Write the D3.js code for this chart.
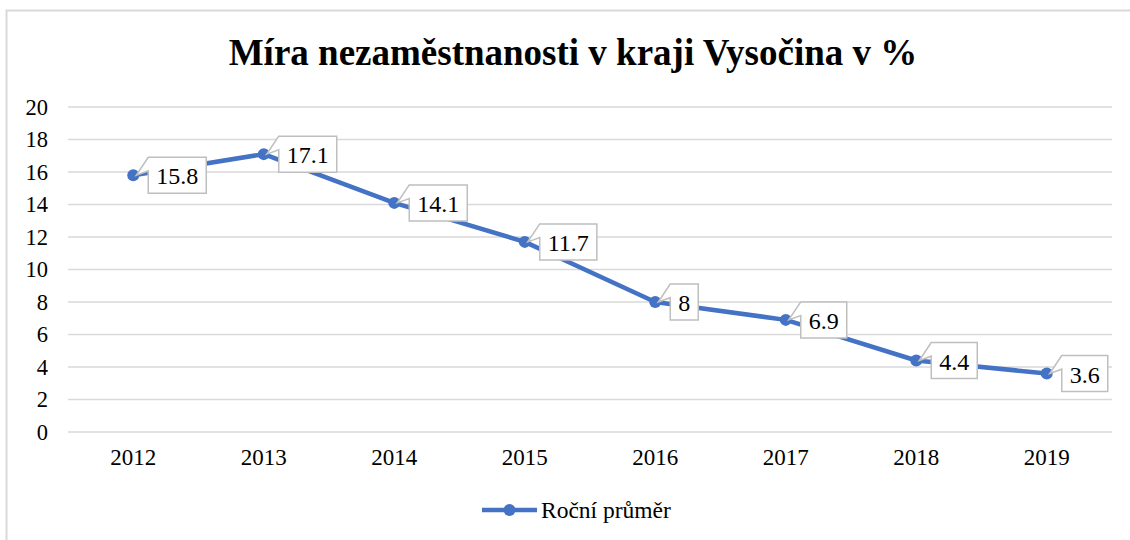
<!DOCTYPE html>
<html>
<head>
  <meta charset="utf-8">
  <script src="https://d3js.org/d3.v7.min.js"></script>
  <style>
    body { margin: 0; background: #fff; }
    svg text { font-family: "Liberation Serif", "Times New Roman", serif !important; fill: #000; }
  </style>
</head>
<body>
  <svg width="1130" height="540"></svg>
  <script>
    const years = ['2012', '2013', '2014', '2015', '2016', '2017', '2018', '2019'];
    const rates = [15.8, 17.1, 14.1, 11.7, 8, 6.9, 4.4, 3.6];
    const yTicks = [0, 2, 4, 6, 8, 10, 12, 14, 16, 18, 20];
    const seriesName = 'Roční průměr';
    const title = 'Míra nezaměstnanosti v kraji Vysočina v %';

    const blue = '#4472c4';
    const serif = '"Liberation Serif", "Times New Roman", serif';
    const svg = d3.select('svg');

    // chart area border (runs off the right and bottom edge)
    svg.append('rect')
      .attr('x', 6.5).attr('y', 10.5)
      .attr('width', 1140).attr('height', 540)
      .attr('fill', 'none').attr('stroke', '#d9d9d9').attr('stroke-width', 2);

    svg.append('text')
      .attr('x', 573).attr('y', 65)
      .attr('text-anchor', 'middle')
      .style('font-family', serif)
      .style('font-weight', 'bold')
      .style('font-size', '37px')
      .text(title);

    const x = d3.scaleBand().domain(years).range([68, 1112]);
    const y = d3.scaleLinear().domain([0, 20]).range([432, 107]);
    const cx = d => x(d) + x.bandwidth() / 2;

    // gridlines
    svg.append('g').selectAll('line')
      .data(yTicks)
      .join('line')
      .attr('x1', 68).attr('x2', 1112)
      .attr('y1', d => y(d)).attr('y2', d => y(d))
      .attr('stroke', '#d9d9d9').attr('stroke-width', 1.5);

    const yAxis = svg.append('g')
      .attr('transform', 'translate(48,0)')
      .call(d3.axisLeft(y).tickValues(yTicks).tickSize(0).tickPadding(0));
    yAxis.select('.domain').remove();
    yAxis.attr('font-family', null).attr('font-size', null);
    yAxis.selectAll('text')
      .style('font-family', serif).style('font-size', '22.5px');

    const xAxis = svg.append('g')
      .attr('transform', 'translate(0,432)')
      .call(d3.axisBottom(x).tickSize(0).tickPadding(17));
    xAxis.select('.domain').remove();
    xAxis.attr('font-family', null).attr('font-size', null);
    xAxis.selectAll('text')
      .style('font-family', serif).style('font-size', '23px');

    const pts = years.map((yr, i) => ({ yr, v: rates[i] }));

    svg.append('path')
      .datum(pts)
      .attr('fill', 'none')
      .attr('stroke', blue)
      .attr('stroke-width', 4.5)
      .attr('stroke-linejoin', 'round')
      .attr('d', d3.line().x(d => cx(d.yr)).y(d => y(d.v)));

    svg.append('g').selectAll('circle')
      .data(pts)
      .join('circle')
      .attr('cx', d => cx(d.yr)).attr('cy', d => y(d.v))
      .attr('r', 6).attr('fill', blue);

    // callout data labels
    const labels = svg.append('g').selectAll('g')
      .data(pts)
      .join('g');
    labels.each(function (d) {
      const g = d3.select(this);
      const px = cx(d.yr), py = y(d.v);
      const t = g.append('text')
        .style('font-family', serif)
        .style('font-size', '24px')
        .attr('text-anchor', 'middle')
        .attr('dominant-baseline', 'central')
        .text(String(d.v));
      const w = t.node().getComputedTextLength() + 16;
      const h = 36;
      const bx = px + 15, by = py - 18;
      t.attr('x', bx + w / 2).attr('y', py + 1);
      g.insert('path', 'text')
        .attr('d', `M${bx},${by} L${px + 3},${py} L${bx},${by + h * 0.38} L${bx},${by + h} L${bx + w},${by + h} L${bx + w},${by} Z`)
        .attr('fill', '#fff')
        .attr('stroke', '#bfbfbf')
        .attr('stroke-width', 1.5);
    });

    // legend
    const lg = svg.append('g');
    lg.append('line')
      .attr('x1', 482).attr('x2', 537).attr('y1', 510).attr('y2', 510)
      .attr('stroke', blue).attr('stroke-width', 4.5);
    lg.append('circle').attr('cx', 509.5).attr('cy', 510).attr('r', 6).attr('fill', blue);
    lg.append('text')
      .attr('x', 541).attr('y', 518)
      .style('font-family', serif)
      .style('font-size', '23.5px')
      .text(seriesName);
  </script>
</body>
</html>
